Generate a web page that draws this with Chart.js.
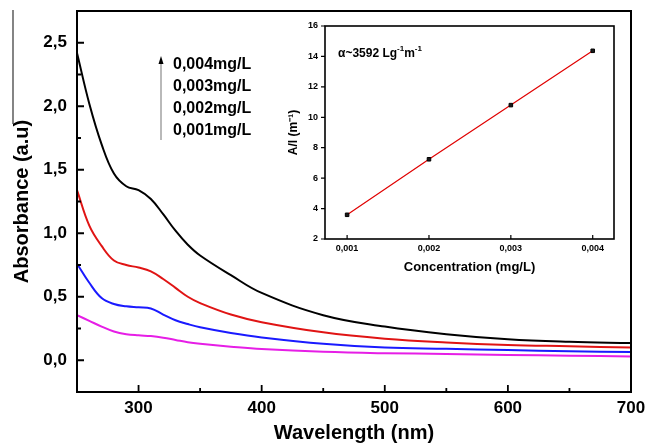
<!DOCTYPE html>
<html>
<head>
<meta charset="utf-8">
<script src="https://cdn.jsdelivr.net/npm/chart.js@4.4.0/dist/chart.umd.min.js"></script>
<style>
html,body{margin:0;padding:0;background:#fff;}
#wrap{position:relative;width:647px;height:445px;}
#main{position:absolute;left:0;top:0;}
#inset{position:absolute;left:270px;top:16px;}
</style>
</head>
<body>
<div id="wrap">
  <canvas id="main" width="647" height="445"></canvas>
  <canvas id="inset" width="350" height="270"></canvas>
</div>
<script>
// ----------------- DATA -----------------
const wavelength = [250, 260, 270, 280, 290, 300, 310, 320, 330, 340, 350, 375, 400, 450, 500, 550, 600, 650, 700];
const abs004 = [2.42, 2.02, 1.70, 1.47, 1.37, 1.34, 1.27, 1.15, 1.02, 0.91, 0.825, 0.67, 0.53, 0.355, 0.265, 0.205, 0.165, 0.145, 0.135];
const abs003 = [1.34, 1.06, 0.90, 0.785, 0.75, 0.73, 0.70, 0.64, 0.57, 0.50, 0.45, 0.36, 0.30, 0.22, 0.17, 0.14, 0.12, 0.11, 0.10];
const abs002 = [0.76, 0.61, 0.49, 0.443, 0.425, 0.417, 0.408, 0.36, 0.315, 0.285, 0.26, 0.215, 0.18, 0.13, 0.10, 0.09, 0.08, 0.07, 0.065];
const abs001 = [0.355, 0.31, 0.265, 0.226, 0.205, 0.196, 0.19, 0.178, 0.16, 0.142, 0.13, 0.107, 0.088, 0.066, 0.055, 0.05, 0.042, 0.036, 0.03];
const concLabels = ['0,004mg/L', '0,003mg/L', '0,002mg/L', '0,001mg/L'];

const conc = [0.001, 0.002, 0.003, 0.004];
const aOverL = [3.59, 7.24, 10.8, 14.37];

const xMajor = [300, 400, 500, 600, 700];
const xMinor = [250, 350, 450, 550, 650];
const yMajor = [0, 0.5, 1.0, 1.5, 2.0, 2.5];
const yMinor = [-0.25, 0.25, 0.75, 1.25, 1.75, 2.25];
const insetXTicks = [0.001, 0.002, 0.003, 0.004];
const insetYTicks = [2, 4, 6, 8, 10, 12, 14, 16];

Chart.defaults.font.family = '"Liberation Sans", Arial, sans-serif';
Chart.defaults.color = '#000';

const pts = (xs, ys) => xs.map((x, i) => ({ x: x, y: ys[i] }));

// sin relleno extra de Chart.js para las etiquetas de los bordes
const sinPadding = s => { s.paddingTop = 0; s.paddingBottom = 0; s.paddingLeft = 0; s.paddingRight = 0; };

// ----------------- FRAME + INWARD TICKS -----------------
const marcoTicks = {
  id: 'marcoTicks',
  afterDraw(chart, args, o) {
    const { ctx, chartArea: a, scales } = chart;
    const sx = scales.x, sy = scales.y;
    ctx.save();
    ctx.strokeStyle = '#000';
    ctx.lineWidth = o.frame;
    ctx.strokeRect(a.left, a.top, a.right - a.left, a.bottom - a.top);
    ctx.lineWidth = o.tickWidth;
    ctx.beginPath();
    (o.xMajor || []).forEach(v => { const p = sx.getPixelForValue(v); ctx.moveTo(p, a.bottom); ctx.lineTo(p, a.bottom - o.major); });
    (o.xMinor || []).forEach(v => { const p = sx.getPixelForValue(v); ctx.moveTo(p, a.bottom); ctx.lineTo(p, a.bottom - o.minor); });
    (o.yMajor || []).forEach(v => { const p = sy.getPixelForValue(v); ctx.moveTo(a.left, p); ctx.lineTo(a.left + o.yDir * o.major, p); });
    (o.yMinor || []).forEach(v => { const p = sy.getPixelForValue(v); ctx.moveTo(a.left, p); ctx.lineTo(a.left + o.yDir * o.minor, p); });
    ctx.stroke();
    ctx.restore();
  }
};

// leyenda con flecha (grafico principal)
const leyenda = {
  id: 'leyenda',
  afterDraw(chart) {
    const ctx = chart.ctx;
    ctx.save();
    ctx.strokeStyle = '#333';
    ctx.lineWidth = 1.2;
    ctx.beginPath(); ctx.moveTo(13, 10); ctx.lineTo(13, 124); ctx.stroke();
    ctx.strokeStyle = '#8a8a8a';
    ctx.lineWidth = 1.2;
    ctx.beginPath(); ctx.moveTo(161, 140); ctx.lineTo(161, 61); ctx.stroke();
    ctx.fillStyle = '#000';
    ctx.beginPath(); ctx.moveTo(161, 56); ctx.lineTo(158.5, 64); ctx.lineTo(163.5, 64); ctx.closePath(); ctx.fill();
    ctx.font = 'bold 16px "Liberation Sans", Arial, sans-serif';
    ctx.textBaseline = 'middle';
    concLabels.forEach((t, i) => ctx.fillText(t, 173, 65 + 22 * i));
    ctx.restore();
  }
};

new Chart(document.getElementById('main'), {
  type: 'line',
  data: {
    datasets: [
      { data: pts(wavelength, abs004), borderColor: '#000000' },
      { data: pts(wavelength, abs003), borderColor: '#e01414' },
      { data: pts(wavelength, abs002), borderColor: '#1a1aff' },
      { data: pts(wavelength, abs001), borderColor: '#e61ee6' }
    ]
  },
  options: {
    responsive: false,
    animation: false,
    parsing: false,
    layout: { padding: { top: 11, right: 16, left: 0, bottom: 0 } },
    elements: { point: { radius: 0 }, line: { borderWidth: 2, tension: 0.4 } },
    plugins: {
      legend: { display: false },
      tooltip: { enabled: false },
      marcoTicks: { frame: 2, tickWidth: 1.8, major: 7, minor: 4, yDir: 1, xMajor: xMajor, xMinor: xMinor, yMajor: yMajor, yMinor: yMinor }
    },
    scales: {
      x: {
        type: 'linear', min: 250, max: 700,
        afterBuildTicks: s => { s.ticks = xMajor.map(v => ({ value: v })); },
        afterFit: s => { s.height = 53; sinPadding(s); },
        grid: { display: false, drawTicks: false },
        border: { display: false },
        ticks: { padding: 6, maxRotation: 0, font: { size: 17, weight: 'bold' }, callback: v => v.toFixed(0) },
        title: { display: true, text: 'Wavelength (nm)', font: { size: 20, weight: 'bold' }, padding: { top: 0, bottom: 0 } }
      },
      y: {
        type: 'linear', min: -0.25, max: 2.75,
        afterBuildTicks: s => { s.ticks = yMajor.map(v => ({ value: v })); },
        afterFit: s => { s.width = 77; sinPadding(s); },
        grid: { display: false, drawTicks: false },
        border: { display: false },
        ticks: { padding: 10, font: { size: 17, weight: 'bold' }, callback: v => v.toFixed(1).replace('.', ',') },
        title: { display: true, text: 'Absorbance (a.u)', font: { size: 20, weight: 'bold' }, padding: { top: 10, bottom: 0 } }
      }
    }
  },
  plugins: [marcoTicks, leyenda]
});

// ----------------- INSET -----------------
const alfa = {
  id: 'alfa',
  afterDraw(chart) {
    const ctx = chart.ctx;
    ctx.save();
    ctx.fillStyle = '#000';
    ctx.textBaseline = 'middle';
    let x = 68;
    const y = 38;
    const trozos = [['\u03b1~3592 Lg', 0, 12], ['-1', -5, 8], ['m', 0, 12], ['-1', -5, 8]];
    trozos.forEach(([t, dy, sz]) => {
      ctx.font = 'bold ' + sz + 'px "Liberation Sans", Arial, sans-serif';
      ctx.fillText(t, x, y + dy);
      x += ctx.measureText(t).width;
    });
    ctx.restore();
  }
};

new Chart(document.getElementById('inset'), {
  type: 'line',
  data: {
    datasets: [{
      data: pts(conc, aOverL),
      borderColor: '#e00000', borderWidth: 1.2,
      pointStyle: 'rect', pointRadius: 2.5,
      pointBackgroundColor: '#1a1a1a', pointBorderColor: '#000', pointBorderWidth: 1
    }]
  },
  options: {
    responsive: false,
    animation: false,
    parsing: false,
    layout: { padding: { top: 10, right: 6, left: 0, bottom: 0 } },
    plugins: {
      legend: { display: false },
      tooltip: { enabled: false },
      marcoTicks: { frame: 1.6, tickWidth: 1.2, major: 4, minor: 0, yDir: -1, xMajor: insetXTicks, yMajor: insetYTicks }
    },
    scales: {
      x: {
        type: 'linear', min: 0.00073, max: 0.00426,
        afterBuildTicks: s => { s.ticks = insetXTicks.map(v => ({ value: v })); },
        afterFit: s => { s.height = 47; sinPadding(s); },
        grid: { display: false, drawTicks: false },
        border: { display: false },
        ticks: { padding: 4, maxRotation: 0, font: { size: 9, weight: 'bold' }, callback: v => v.toFixed(3).replace('.', ',') },
        title: { display: true, text: 'Concentration (mg/L)', font: { size: 13, weight: 'bold' }, padding: { top: 0, bottom: 11 } }
      },
      y: {
        type: 'linear', min: 2, max: 16,
        afterBuildTicks: s => { s.ticks = insetYTicks.map(v => ({ value: v })); },
        afterFit: s => { s.width = 55; sinPadding(s); },
        grid: { display: false, drawTicks: false },
        border: { display: false },
        ticks: { padding: 7, font: { size: 9, weight: 'bold' }, callback: v => v.toFixed(0) },
        title: { display: true, text: 'A/l (m\u207b\u00b9)', font: { size: 12, weight: 'bold' }, padding: { top: 16, bottom: 0 } }
      }
    }
  },
  plugins: [marcoTicks, alfa]
});
</script>
</body>
</html>
